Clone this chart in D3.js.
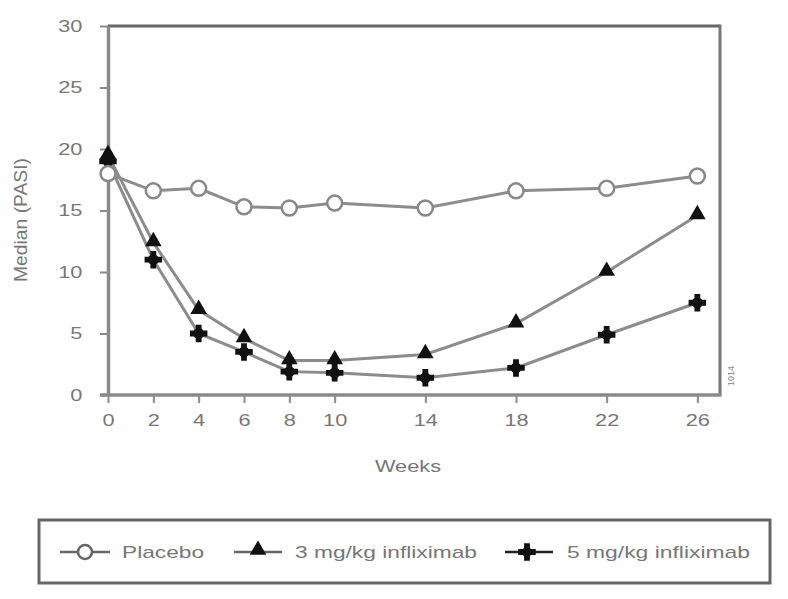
<!DOCTYPE html>
<html><head><meta charset="utf-8">
<script src="https://cdn.jsdelivr.net/npm/d3@7"></script>
<style>body{margin:0;background:#fff;} text{font-family:"Liberation Sans",Arial,sans-serif;}</style>
</head><body><svg id="c" width="788" height="599"></svg>
<script>
const weeks = [0, 2, 4, 6, 8, 10, 14, 18, 22, 26];
const placebo = [18.0, 16.6, 16.8, 15.3, 15.2, 15.6, 15.2, 16.6, 16.8, 17.8];
const mg3 = [19.5, 12.4, 6.9, 4.6, 2.8, 2.8, 3.3, 5.8, 10.0, 14.6];
const mg5 = [19.0, 11.0, 5.0, 3.5, 1.9, 1.8, 1.4, 2.2, 4.9, 7.5];
const yTicks = [0, 5, 10, 15, 20, 25, 30];
const xTicks = [0, 2, 4, 6, 8, 10, 14, 18, 22, 26];
const seriesNames = ["Placebo", "3 mg/kg infliximab", "5 mg/kg infliximab"];
const xLabel = "Weeks";
const yLabel = "Median (PASI)";

const SX = 1.28;
const svg = d3.select("#c");
const x = d3.scaleLinear().domain([0, 27]).range([108, 720]);
const y = d3.scaleLinear().domain([0, 30]).range([395, 26]);
const axisCol = "#8a8a8a", textCol = "#777";

// frame top & right
svg.append("line").attr("x1", x(0)).attr("x2", x(27)).attr("y1", y(30)).attr("y2", y(30))
  .attr("stroke", "#666").attr("stroke-width", 3);
svg.append("line").attr("x1", x(27)).attr("x2", x(27)).attr("y1", y(30) - 1.5).attr("y2", y(0))
  .attr("stroke", "#777").attr("stroke-width", 3);

const gy = svg.append("g").attr("transform", `translate(${x(0)},0)`)
  .call(d3.axisLeft(y).tickValues(yTicks).tickSize(8).tickPadding(12).tickSizeOuter(0));
const gx = svg.append("g").attr("transform", `translate(0,${y(0)})`)
  .call(d3.axisBottom(x).tickValues(xTicks).tickSize(8).tickPadding(11).tickSizeOuter(0));
[gy, gx].forEach(g => {
  g.select(".domain").attr("stroke", axisCol).attr("stroke-width", 3.5);
  g.selectAll(".tick line").attr("stroke", axisCol).attr("stroke-width", 2);
  g.selectAll(".tick text").attr("fill", textCol).attr("font-size", 17)
    .attr("transform", `scale(${SX},1)`);
});
gx.selectAll(".tick line").attr("y2", 8);
gx.select(".domain").attr("d", `M${x(0) - 8},0H${x(27) + 1.5}`);

// axis titles
svg.append("g").attr("transform", `translate(408,472) scale(${SX},1)`)
  .append("text").attr("text-anchor", "middle").attr("font-size", 17).attr("fill", textCol).text(xLabel);
svg.append("g").attr("transform", `translate(27,220) rotate(-90)`)
  .append("text").attr("text-anchor", "middle").attr("font-size", 15).attr("fill", textCol)
  .attr("textLength", 124).attr("lengthAdjust", "spacingAndGlyphs")
  .attr("transform", `scale(1,${SX})`).text(yLabel);
// small figure code
svg.append("g").attr("transform", `translate(734,376) rotate(-90)`)
  .append("text").attr("text-anchor", "middle").attr("font-size", 9).attr("fill", "#888").text("1014");

const line = d3.line().x((d, i) => x(weeks[i])).y(d => y(d));
const lineCol = "#8c8c8c";
[mg5, mg3, placebo].forEach(s => {
  svg.append("path").datum(s).attr("d", line).attr("fill", "none")
    .attr("stroke", lineCol).attr("stroke-width", 3);
});

const tri = d3.symbol().type(d3.symbolTriangle).size(120);
const crs = d3.symbol().type(d3.symbolCross).size(170);
svg.selectAll(".m5").data(mg5).join("path")
  .attr("transform", (d, i) => `translate(${x(weeks[i])},${y(d)})`).attr("d", crs).attr("fill", "#111");
svg.selectAll(".m5c").data(mg5).join("circle")
  .attr("cx", (d, i) => x(weeks[i])).attr("cy", d => y(d)).attr("r", 5.5).attr("fill", "#111");
svg.selectAll(".m3").data(mg3).join("path")
  .attr("transform", (d, i) => `translate(${x(weeks[i])},${y(d) - 1})`).attr("d", tri).attr("fill", "#111");
svg.selectAll(".mp").data(placebo).join("circle")
  .attr("cx", (d, i) => x(weeks[i])).attr("cy", d => y(d)).attr("r", 7.5)
  .attr("fill", "#fff").attr("stroke", "#888").attr("stroke-width", 2.5);

// legend
svg.append("rect").attr("x", 39).attr("y", 520).attr("width", 731).attr("height", 63)
  .attr("fill", "#fff").attr("stroke", "#666").attr("stroke-width", 3);
const ly = 552;
const leg = [
  {x1: 60, x2: 110, cx: 85, tx: 122, tl: 82, kind: "c"},
  {x1: 234, x2: 282, cx: 258, tx: 295, tl: 182, kind: "t"},
  {x1: 505, x2: 553, cx: 527, tx: 567, tl: 183, kind: "x"}
];
leg.forEach((L, i) => {
  svg.append("line").attr("x1", L.x1).attr("x2", L.x2).attr("y1", ly).attr("y2", ly)
    .attr("stroke", i === 2 ? "#222" : "#666").attr("stroke-width", 2.5);
  if (L.kind === "c") svg.append("circle").attr("cx", L.cx).attr("cy", ly).attr("r", 7)
    .attr("fill", "#fff").attr("stroke", "#666").attr("stroke-width", 2.5);
  if (L.kind === "t") svg.append("path").attr("transform", `translate(${L.cx},${ly - 2})`)
    .attr("d", tri).attr("fill", "#111");
  if (L.kind === "x") {
    svg.append("path").attr("transform", `translate(${L.cx},${ly})`).attr("d", crs).attr("fill", "#111");
    svg.append("circle").attr("cx", L.cx).attr("cy", ly).attr("r", 5).attr("fill", "#111");
  }
  svg.append("text").attr("x", L.tx).attr("y", ly + 6).attr("font-size", 17).attr("fill", textCol)
    .attr("textLength", L.tl).attr("lengthAdjust", "spacingAndGlyphs").text(seriesNames[i]);
});
</script></body></html>
